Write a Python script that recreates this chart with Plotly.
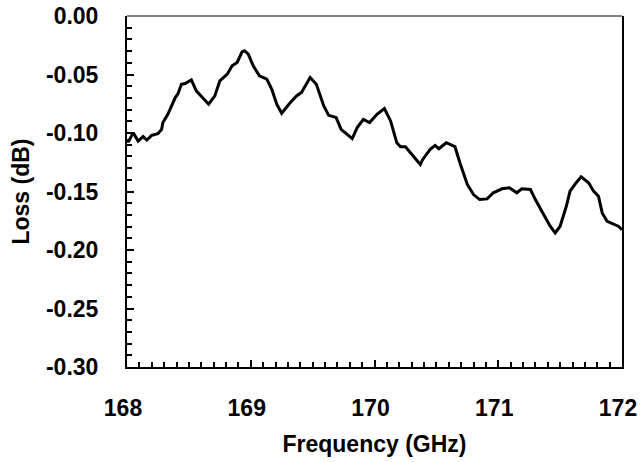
import plotly.graph_objects as go

freq_ghz = [168.00, 168.01, 168.05, 168.09, 168.13, 168.16, 168.20, 168.25, 168.28, 168.29,
            168.33, 168.39, 168.41, 168.44, 168.47, 168.52, 168.56, 168.66, 168.71, 168.75,
            168.81, 168.85, 168.89, 168.93, 168.95, 168.98, 169.02, 169.07, 169.13, 169.17,
            169.21, 169.25, 169.32, 169.37, 169.41, 169.48, 169.53, 169.59, 169.63, 169.69,
            169.73, 169.80, 169.82, 169.86, 169.91, 169.96, 170.02, 170.08, 170.13, 170.18,
            170.21, 170.25, 170.30, 170.37, 170.39, 170.45, 170.49, 170.52, 170.58, 170.65,
            170.69, 170.75, 170.80, 170.85, 170.91, 170.96, 171.03, 171.09, 171.15, 171.19,
            171.26, 171.30, 171.36, 171.42, 171.46, 171.50, 171.55, 171.58, 171.63, 171.67,
            171.73, 171.77, 171.81, 171.84, 171.88, 171.93, 171.97, 172.00]

loss_db = [-0.1054, -0.1077, -0.0997, -0.1069, -0.1031, -0.1060, -0.1020, -0.1005, -0.0969, -0.0911,
           -0.0840, -0.0697, -0.0669, -0.0583, -0.0577, -0.0546, -0.0640, -0.0754, -0.0683, -0.0555,
           -0.0497, -0.0426, -0.0397, -0.0306, -0.0297, -0.0326, -0.0426, -0.0512, -0.0540, -0.0626,
           -0.0754, -0.0831, -0.0740, -0.0683, -0.0654, -0.0525, -0.0583, -0.0769, -0.0849, -0.0868,
           -0.0969, -0.1026, -0.1048, -0.0954, -0.0883, -0.0911, -0.0840, -0.0791, -0.0897, -0.1083,
           -0.1117, -0.1117, -0.1183, -0.1269, -0.1226, -0.1140, -0.1106, -0.1134, -0.1083, -0.1117,
           -0.1254, -0.1440, -0.1526, -0.1569, -0.1563, -0.1511, -0.1477, -0.1468, -0.1511, -0.1477,
           -0.1483, -0.1569, -0.1683, -0.1797, -0.1854, -0.1797, -0.1626, -0.1497, -0.1425, -0.1374,
           -0.1425, -0.1497, -0.1540, -0.1683, -0.1755, -0.1777, -0.1797, -0.1826]

y_tick_vals = [0.0, -0.05, -0.10, -0.15, -0.20, -0.25, -0.30]
y_tick_text = ["0.00", "-0.05", "-0.10", "-0.15", "-0.20", "-0.25", "-0.30"]

FONT = "Liberation Sans, Arial, sans-serif"
FS = 23

fig = go.Figure()
fig.add_trace(go.Scatter(x=freq_ghz, y=loss_db, mode="lines",
                         line=dict(color="black", width=3), showlegend=False))

fig.update_layout(
    width=641, height=462,
    margin=dict(l=127, r=19, t=16, b=95, autoexpand=False),
    paper_bgcolor="white", plot_bgcolor="white",
    font=dict(family=FONT, size=FS, color="black"),
    shapes=[dict(type="line", xref="paper", yref="paper", x0=0, x1=1, y0=1, y1=1,
                 line=dict(color="#808080", width=2))],
)
fig.update_xaxes(
    range=[168, 172], tickmode="linear", tick0=168, dtick=1, tickformat="d",
    automargin=False,
    showgrid=False, zeroline=False, showline=True, linecolor="black", linewidth=2,
    ticks="inside", ticklen=7, tickwidth=1.5, tickcolor="black",
    minor=dict(tickmode="linear", dtick=0.1, tick0=168, ticks="inside", ticklen=5,
               tickwidth=1.5, tickcolor="black", showgrid=False),
    tickfont=dict(family=FONT, size=FS, color="black", weight="bold"),
    ticklabelstandoff=19, ticklabelshift=-4,
    title=dict(text="<b>Frequency (GHz)</b>", font=dict(family=FONT, size=FS, color="black"), standoff=16),
)
fig.update_yaxes(
    range=[-0.30, 0.0], tickmode="array", tickvals=y_tick_vals, ticktext=y_tick_text,
    automargin=False,
    showgrid=False, zeroline=False, showline=True, linecolor="black", linewidth=2, mirror=True,
    ticks="inside", ticklen=7, tickwidth=1.5, tickcolor="black",
    minor=dict(tickmode="linear", dtick=0.01, tick0=0, ticks="inside", ticklen=5,
               tickwidth=1.5, tickcolor="black", showgrid=False),
    tickfont=dict(family=FONT, size=FS, color="black", weight="bold"),
    ticklabelstandoff=22,
    title=dict(text="<b>Loss (dB)</b>", font=dict(family=FONT, size=FS, color="black"), standoff=10),
)

fig.write_html("out.html", config={"displayModeBar": False},
               post_script="document.body.style.margin='0';document.body.style.padding='0';")
